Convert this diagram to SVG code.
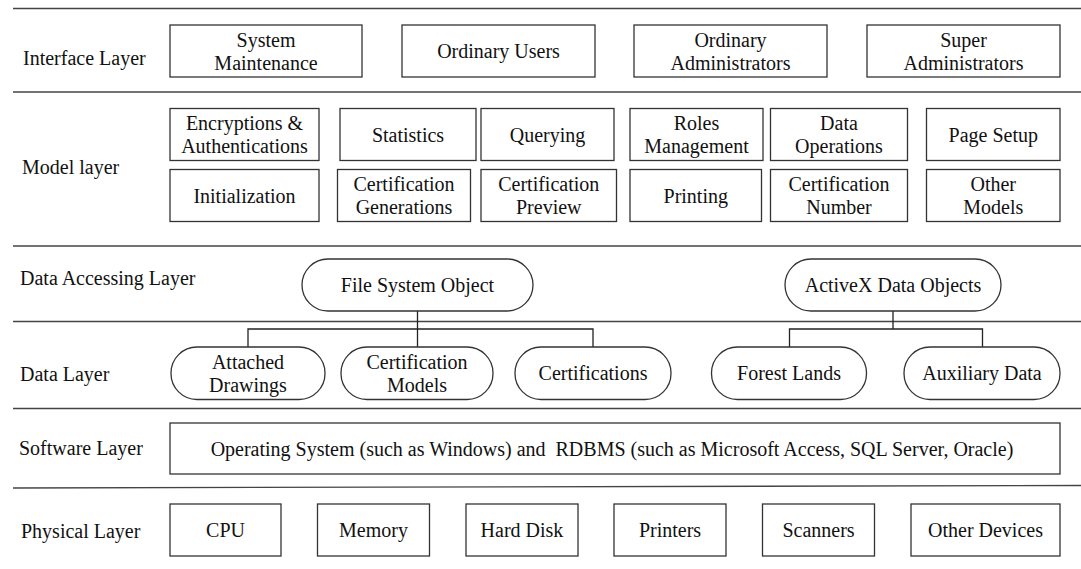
<svg xmlns="http://www.w3.org/2000/svg" width="1081" height="569" viewBox="0 0 1081 569" font-family="'Liberation Serif', 'Times New Roman', Tinos, Times, 'DejaVu Serif', serif" font-size="20">
<style>
text{font-family:'Liberation Serif','Times New Roman',Tinos,Times,'DejaVu Serif',serif;font-size:20px;fill:#111}
.c{text-anchor:middle}
.box{fill:#fff;stroke:#333;stroke-width:1.3}
.div{stroke:#444;stroke-width:1.3;fill:none}
.con{stroke:#222;stroke-width:1.3;fill:none}
</style>
<rect width="1081" height="569" fill="#fff"/>
<g id="dividers">
<line class="div" x1="13" y1="8.5" x2="1081" y2="8.5"/>
<line class="div" x1="13" y1="92" x2="1081" y2="92"/>
<line class="div" x1="13" y1="246" x2="1081" y2="246"/>
<line class="div" x1="13" y1="321.5" x2="1081" y2="321.5"/>
<line class="div" x1="13" y1="408.5" x2="1081" y2="408.5"/>
<line class="div" x1="13" y1="488" x2="1081" y2="485.5"/>
</g>
<g id="labels">
<text x="23" y="65">Interface Layer</text>
<text x="22" y="174">Model layer</text>
<text x="20" y="285">Data Accessing Layer</text>
<text x="20" y="381">Data Layer</text>
<text x="19" y="455">Software Layer</text>
<text x="21" y="538">Physical Layer</text>
</g>
<g id="connectors">
<path class="con" d="M417.5,311V347M248,347V329H593V347"/>
<path class="con" d="M893,311V329M789.5,347V329H982.5V347"/>
</g>
<g id="system-maintenance"><rect class="box" x="170" y="25" width="192" height="52"/><text class="c" x="266" y="46.5">System</text><text class="c" x="266" y="69.5">Maintenance</text></g>
<g id="ordinary-users"><rect class="box" x="402" y="25" width="193" height="52"/><text class="c" x="498.5" y="58">Ordinary Users</text></g>
<g id="ordinary-admins"><rect class="box" x="634" y="25" width="193" height="52"/><text class="c" x="730.5" y="46.5">Ordinary</text><text class="c" x="730.5" y="69.5">Administrators</text></g>
<g id="super-admins"><rect class="box" x="867" y="25" width="193" height="52"/><text class="c" x="963.5" y="46.5">Super</text><text class="c" x="963.5" y="69.5">Administrators</text></g>

<g id="encryptions"><rect class="box" x="170" y="108.5" width="149" height="52"/><text class="c" x="244.5" y="130">Encryptions &amp;</text><text class="c" x="244.5" y="153">Authentications</text></g>
<g id="statistics"><rect class="box" x="340" y="108.5" width="136" height="52"/><text class="c" x="408" y="141.5">Statistics</text></g>
<g id="querying"><rect class="box" x="481" y="108.5" width="133" height="52"/><text class="c" x="547.5" y="141.5">Querying</text></g>
<g id="roles"><rect class="box" x="630" y="108.5" width="133" height="52"/><text class="c" x="696.5" y="130">Roles</text><text class="c" x="696.5" y="153">Management</text></g>
<g id="data-operations"><rect class="box" x="770.5" y="108.5" width="137" height="52"/><text class="c" x="839" y="130">Data</text><text class="c" x="839" y="153">Operations</text></g>
<g id="page-setup"><rect class="box" x="926.5" y="108.5" width="133.5" height="52"/><text class="c" x="993.25" y="141.5">Page Setup</text></g>

<g id="initialization"><rect class="box" x="170" y="169.5" width="149" height="52"/><text class="c" x="244.5" y="202.5">Initialization</text></g>
<g id="cert-generations"><rect class="box" x="337.5" y="169.5" width="133" height="52"/><text class="c" x="404" y="191">Certification</text><text class="c" x="404" y="214">Generations</text></g>
<g id="cert-preview"><rect class="box" x="481" y="169.5" width="135.5" height="52"/><text class="c" x="548.75" y="191">Certification</text><text class="c" x="548.75" y="214">Preview</text></g>
<g id="printing"><rect class="box" x="630" y="169.5" width="131.5" height="52"/><text class="c" x="695.75" y="202.5">Printing</text></g>
<g id="cert-number"><rect class="box" x="770.5" y="169.5" width="137" height="52"/><text class="c" x="839" y="191">Certification</text><text class="c" x="839" y="214">Number</text></g>
<g id="other-models"><rect class="box" x="926.5" y="169.5" width="133.5" height="52"/><text class="c" x="993.25" y="191">Other</text><text class="c" x="993.25" y="214">Models</text></g>

<g id="fso"><rect class="box" x="302" y="259" width="231" height="52" rx="26"/><text class="c" x="417.5" y="292">File System Object</text></g>
<g id="ado"><rect class="box" x="785" y="259" width="216" height="52" rx="26"/><text class="c" x="893" y="292">ActiveX Data Objects</text></g>

<g id="attached-drawings"><rect class="box" x="171" y="347" width="154" height="52.5" rx="26"/><text class="c" x="248" y="368.5">Attached</text><text class="c" x="248" y="391.5">Drawings</text></g>
<g id="cert-models"><rect class="box" x="341" y="347" width="152" height="52.5" rx="26"/><text class="c" x="417" y="368.5">Certification</text><text class="c" x="417" y="391.5">Models</text></g>
<g id="certifications"><rect class="box" x="515" y="347" width="156" height="52.5" rx="26"/><text class="c" x="593" y="380">Certifications</text></g>
<g id="forest-lands"><rect class="box" x="711.5" y="347" width="155" height="52.5" rx="26"/><text class="c" x="789" y="380">Forest Lands</text></g>
<g id="auxiliary-data"><rect class="box" x="904" y="347" width="156" height="52.5" rx="26"/><text class="c" x="982" y="380">Auxiliary Data</text></g>

<g id="software"><rect class="box" x="170" y="423" width="890" height="51"/><text class="c" x="612" y="455.5" xml:space="preserve">Operating System (such as Windows) and  RDBMS (such as Microsoft Access, SQL Server, Oracle)</text></g>

<g id="cpu"><rect class="box" x="170" y="504" width="111" height="52"/><text class="c" x="225.5" y="537">CPU</text></g>
<g id="memory"><rect class="box" x="317.5" y="504" width="112" height="52"/><text class="c" x="373.5" y="537">Memory</text></g>
<g id="hard-disk"><rect class="box" x="466" y="504" width="112" height="52"/><text class="c" x="522" y="537">Hard Disk</text></g>
<g id="printers"><rect class="box" x="614" y="504" width="112" height="52"/><text class="c" x="670" y="537">Printers</text></g>
<g id="scanners"><rect class="box" x="762.5" y="504" width="112" height="52"/><text class="c" x="818.5" y="537">Scanners</text></g>
<g id="other-devices"><rect class="box" x="911" y="504" width="149" height="52"/><text class="c" x="985.5" y="537">Other Devices</text></g>
</svg>
